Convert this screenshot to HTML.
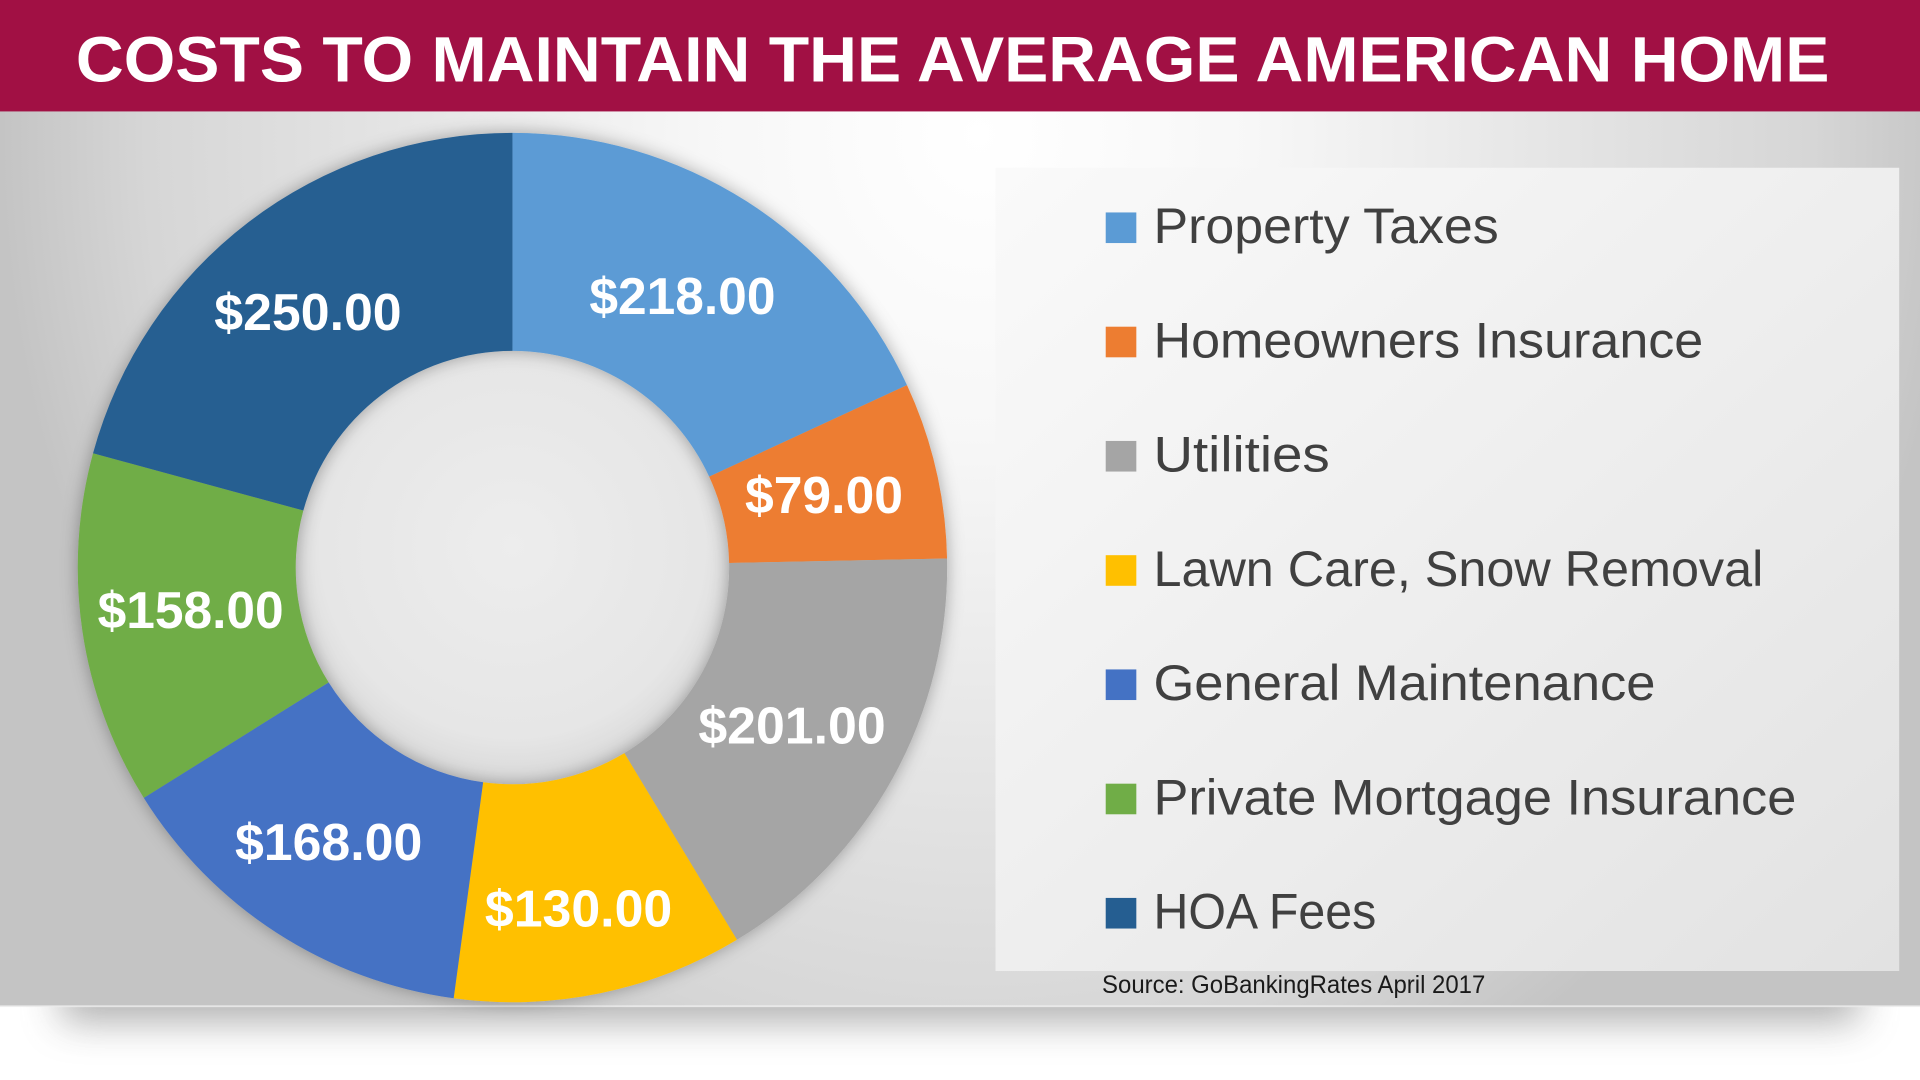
<!DOCTYPE html>
<html>
<head>
<meta charset="utf-8">
<style>
  html,body{margin:0;padding:0;background:#fff;}
  body{width:1920px;height:1080px;overflow:hidden;}
  svg{display:block;}
  text{font-family:"Liberation Sans", Arial, sans-serif;}
</style>
</head>
<body>
<svg width="1920" height="1080" viewBox="0 0 1568 882" xmlns="http://www.w3.org/2000/svg">
  <defs>
    <radialGradient id="bg" gradientUnits="userSpaceOnUse" cx="800" cy="110" r="800"
        gradientTransform="translate(800,110) scale(1,1.1) translate(-800,-110)">
      <stop offset="0" stop-color="#ffffff"/>
      <stop offset="0.28" stop-color="#f7f7f7"/>
      <stop offset="0.62" stop-color="#e3e3e3"/>
      <stop offset="0.85" stop-color="#d6d6d6"/>
      <stop offset="1" stop-color="#c4c4c4"/>
    </radialGradient>
    <linearGradient id="panel" x1="0" y1="0" x2="1" y2="1">
      <stop offset="0" stop-color="#fafafa"/>
      <stop offset="0.5" stop-color="#eeeeee"/>
      <stop offset="1" stop-color="#e2e2e2"/>
    </linearGradient>
    <radialGradient id="hole" cx="0.5" cy="0.45" r="0.55">
      <stop offset="0" stop-color="#ededed"/>
      <stop offset="0.8" stop-color="#e6e6e6"/>
      <stop offset="1" stop-color="#d8d8d8"/>
    </radialGradient>
    <filter id="ds" x="-20%" y="-20%" width="140%" height="140%">
      <feDropShadow dx="0" dy="0" stdDeviation="7" flood-color="#000" flood-opacity="0.32"/>
    </filter>
    <filter id="blur" x="-10%" y="-200%" width="120%" height="500%">
      <feGaussianBlur stdDeviation="16"/>
    </filter>
  </defs>

  <!-- page -->
  <rect x="0" y="0" width="1568" height="882" fill="#ffffff"/>
  <!-- bottom shadow under panel -->
  <rect x="50" y="792" width="1468" height="42" fill="#6a6a6a" opacity="0.55" filter="url(#blur)"/>
  <!-- chart background -->
  <rect x="0" y="90" width="1568" height="732" fill="url(#bg)"/>
  <rect x="0" y="821" width="1568" height="1.5" fill="#f4f4f4" opacity="0.7"/>

  <!-- banner -->
  <rect x="0" y="0" width="1568" height="91" fill="#A11044"/>
  <text x="62" y="66.7" font-size="52" font-weight="bold" fill="#ffffff" textLength="1432" lengthAdjust="spacingAndGlyphs">COSTS TO MAINTAIN THE AVERAGE AMERICAN HOME</text>

  <!-- legend panel -->
  <rect x="813" y="137" width="738" height="656" fill="url(#panel)"/>

  <!-- donut hole -->
  <circle cx="418.5" cy="463.5" r="178" fill="url(#hole)"/>

  <!-- donut -->
  <g filter="url(#ds)">
    <path fill="#5B9BD5" d="M418.5,108.5 A355,355 0 0 1 740.72,314.50 L579.16,389.21 A177,177 0 0 0 418.5,286.5 Z"/>
    <path fill="#ED7D31" d="M740.72,314.50 A355,355 0 0 1 773.42,456.09 L595.46,459.81 A177,177 0 0 0 579.16,389.21 Z"/>
    <path fill="#A5A5A5" d="M773.42,456.09 A355,355 0 0 1 601.85,767.49 L509.92,615.07 A177,177 0 0 0 595.46,459.81 Z"/>
    <path fill="#FFC000" d="M601.85,767.49 A355,355 0 0 1 370.48,815.24 L394.56,638.87 A177,177 0 0 0 509.92,615.07 Z"/>
    <path fill="#4472C4" d="M370.48,815.24 A355,355 0 0 1 117.42,651.59 L268.38,557.28 A177,177 0 0 0 394.56,638.87 Z"/>
    <path fill="#70AD47" d="M117.42,651.59 A355,355 0 0 1 75.99,370.13 L247.73,416.95 A177,177 0 0 0 268.38,557.28 Z"/>
    <path fill="#255E91" d="M75.99,370.13 A355,355 0 0 1 418.5,108.5 L418.5,286.5 A177,177 0 0 0 247.73,416.95 Z"/>
  </g>

  <!-- data labels -->
  <g font-size="42.5" font-weight="bold" fill="#ffffff">
    <text x="481.3" y="256.4" textLength="152" lengthAdjust="spacingAndGlyphs">$218.00</text>
    <text x="608.4" y="419" textLength="129" lengthAdjust="spacingAndGlyphs">$79.00</text>
    <text x="570.3" y="607" textLength="153" lengthAdjust="spacingAndGlyphs">$201.00</text>
    <text x="396" y="756.8" textLength="153" lengthAdjust="spacingAndGlyphs">$130.00</text>
    <text x="191.9" y="702.3" textLength="153" lengthAdjust="spacingAndGlyphs">$168.00</text>
    <text x="79.7" y="512.8" textLength="152" lengthAdjust="spacingAndGlyphs">$158.00</text>
    <text x="175" y="269.5" textLength="153" lengthAdjust="spacingAndGlyphs">$250.00</text>
  </g>

  <!-- legend -->
  <g>
    <rect x="903" y="173.5" width="25" height="25" fill="#5B9BD5"/>
    <rect x="903" y="266.8" width="25" height="25" fill="#ED7D31"/>
    <rect x="903" y="360.1" width="25" height="25" fill="#A5A5A5"/>
    <rect x="903" y="453.4" width="25" height="25" fill="#FFC000"/>
    <rect x="903" y="546.7" width="25" height="25" fill="#4472C4"/>
    <rect x="903" y="640.0" width="25" height="25" fill="#70AD47"/>
    <rect x="903" y="733.3" width="25" height="25" fill="#255E91"/>
  </g>
  <g font-size="41" fill="#404040">
    <text x="942" y="198.5" textLength="282" lengthAdjust="spacingAndGlyphs">Property Taxes</text>
    <text x="942" y="291.8" textLength="449" lengthAdjust="spacingAndGlyphs">Homeowners Insurance</text>
    <text x="942" y="385.1" textLength="144" lengthAdjust="spacingAndGlyphs">Utilities</text>
    <text x="942" y="478.4" textLength="498" lengthAdjust="spacingAndGlyphs">Lawn Care, Snow Removal</text>
    <text x="942" y="571.7" textLength="410" lengthAdjust="spacingAndGlyphs">General Maintenance</text>
    <text x="942" y="665.0" textLength="525" lengthAdjust="spacingAndGlyphs">Private Mortgage Insurance</text>
    <text x="942" y="758.3" textLength="182" lengthAdjust="spacingAndGlyphs">HOA Fees</text>
  </g>

  <!-- source -->
  <text x="900" y="811" font-size="20.4" fill="#1a1a1a" textLength="313" lengthAdjust="spacingAndGlyphs">Source: GoBankingRates April 2017</text>
</svg>
</body>
</html>
